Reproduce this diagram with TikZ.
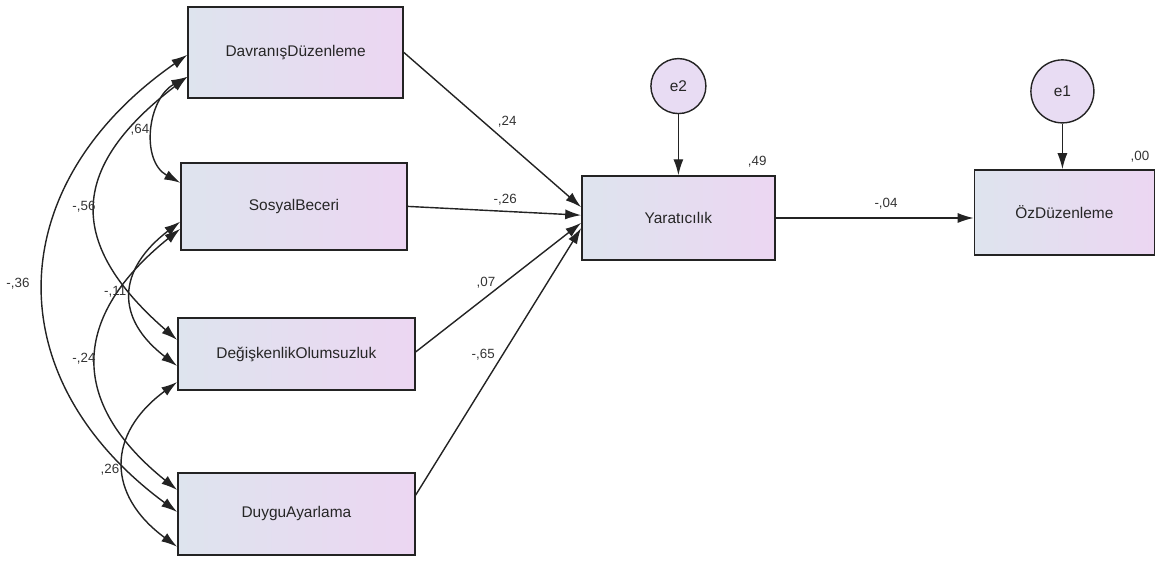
\documentclass[tikz,border=0pt]{standalone}
\usepackage{fontspec}
\setmainfont{Liberation Sans}
\usetikzlibrary{arrows.meta, positioning, calc}
\definecolor{boxleft}{RGB}{222, 228, 238}
\definecolor{boxright}{RGB}{236, 214, 242}
\definecolor{errfill}{RGB}{232, 220, 243}
\definecolor{linegray}{RGB}{35, 35, 35}

\begin{document}
\begin{tikzpicture}[
  varbox/.style = {rectangle, draw=linegray, line width=1pt,
                   left color=boxleft, right color=boxright,
                   font=\fontsize{11}{13}\selectfont, text=black!85},
  errcirc/.style = {circle, draw=linegray, line width=1pt, fill=errfill,
                    inner sep=0pt, font=\fontsize{11}{13}\selectfont, text=black!85},
  coef/.style = {font=\fontsize{9.5}{11}\selectfont, text=black!80, inner sep=0pt},
  arr/.style = {-{Latex[length=4mm, width=2.5mm]}, line width=1pt, linegray},
  cov/.style = {{Latex[length=4mm, width=2.5mm]}-{Latex[length=4mm, width=2.5mm]},
                line width=1pt, linegray}
]
\useasboundingbox (0,0) rectangle (28.925,14);

% observed variables
\node[varbox, minimum width=5.375cm, minimum height=2.275cm] (dav) at (7.39,12.69) {DavranışDüzenleme};
\node[varbox, minimum width=5.65cm,  minimum height=2.175cm] (sos) at (7.35,8.84) {SosyalBeceri};
\node[varbox, minimum width=5.925cm, minimum height=1.8cm]   (deg) at (7.41,5.15) {DeğişkenlikOlumsuzluk};
\node[varbox, minimum width=5.925cm, minimum height=2.05cm]  (duy) at (7.41,1.15) {DuyguAyarlama};
\node[varbox, minimum width=4.825cm, minimum height=2.1cm]   (yar) at (16.96,8.55) {Yaratıcılık};
\node[varbox, minimum width=4.5cm,   minimum height=2.125cm] (oz)  at (26.61,8.69) {ÖzDüzenleme};

% error terms
\node[errcirc, minimum size=1.375cm, above=1.525cm of yar] (e2) {e2};
\node[errcirc, minimum size=1.575cm, above=1.14cm of oz, xshift=-0.05cm] (e1) {e1};

% end points of the covariance arcs
\coordinate (dA) at ($(dav.west)+(0,-0.06)$);
\coordinate (dB) at ($(dav.west)+(0,-0.61)$);
\coordinate (sA) at ($(sos.west)+(0,0.59)$);
\coordinate (sB) at ($(sos.west)+(0,-0.38)$);
\coordinate (sC) at ($(sos.west)+(0,-0.56)$);
\coordinate (gA) at ($(deg.west)+(0,0.35)$);
\coordinate (gB) at ($(deg.west)+(0,-0.3)$);
\coordinate (gC) at ($(deg.west)+(0,-0.7)$);
\coordinate (uA) at ($(duy.west)+(0,0.6)$);
\coordinate (uB) at ($(duy.west)+(0,0.05)$);
\coordinate (uC) at ($(duy.west)+(0,-0.82)$);

% covariances
\draw[cov] (dB) .. controls +(-1.0,-0.55) and +(-1.0,0.55) .. (sA);
\draw[cov] (dB) .. controls +(-2.87,-2.2) and +(-2.87,2.5) .. (gA);
\draw[cov] (dA) .. controls +(-4.6,-3.2) and +(-4.6,3.4) .. (uB);
\draw[cov] (sB) .. controls +(-1.57,-1.2) and +(-1.57,1.2) .. (gB);
\draw[cov] (sC) .. controls +(-2.73,-2.2) and +(-2.73,2.2) .. (uA);
\draw[cov] (gC) .. controls +(-1.77,-1.3) and +(-1.77,1.3) .. (uC);

% regression paths
\draw[arr] (dav.east) -- ($(yar.west)+(0,0.27)$);
\draw[arr] (sos.east) -- ($(yar.west)+(0,0.07)$);
\draw[arr] ($(deg.east)+(0,0.05)$) -- ($(yar.west)+(0,-0.12)$);
\draw[arr] ($(duy.east)+(0,0.47)$) -- ($(yar.west)+(0,-0.25)$);
\draw[arr] (yar.east) -- (yar.east -| oz.west);
\draw[arr] (e2) -- (yar.north);
\draw[arr] (e1) -- (e1 |- oz.north);

% estimates
\node[coef] (w24) at (12.68,10.95) {,24};
\node[coef] (w26) at (12.63,9.0) {-,26};
\node[coef] (w07) at (12.15,6.93) {,07};
\node[coef] (w65) at (12.08,5.13) {-,65};
\node[coef] (r49) at (18.93,9.95) {,49};
\node[coef] (w04) at (22.15,8.9) {-,04};
\node[coef] (r00) at (28.5,10.08) {,00};
\node[coef] (c64) at (3.5,10.75) {,64};
\node[coef] (c56) at (2.1,8.83) {-,56};
\node[coef] (c36) at (0.45,6.9) {-,36};
\node[coef] (c11) at (2.88,6.7) {-,11};
\node[coef] (c24) at (2.1,5.03) {-,24};
\node[coef] (c26) at (2.75,2.25) {,26};
\end{tikzpicture}
\end{document}
